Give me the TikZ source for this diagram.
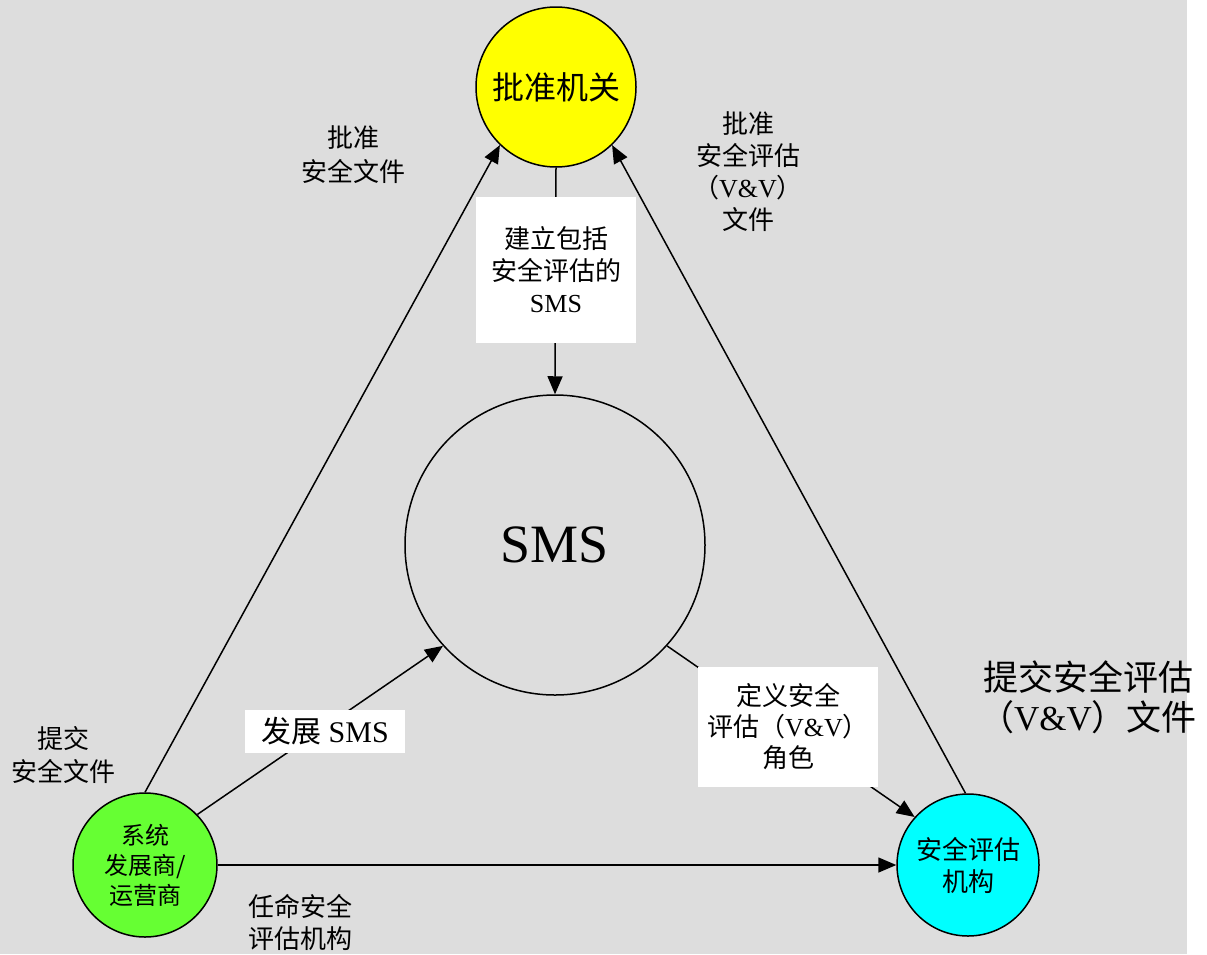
\documentclass[tikz,border=0pt]{standalone}
\usepackage{fontspec}
\setmainfont{Liberation Serif}
\newfontfamily\cjk{Noto Sans CJK SC}
\usetikzlibrary{arrows.meta}
\newcommand\zh[1]{{\cjk #1}}
\newcommand\vv{\zh{（}V\&V\zh{）}}
\tikzset{
  party/.style={circle, draw, line width=1.5pt, inner sep=0pt, align=center},
  flow/.style={line width=1.5pt, -{Triangle[length=18pt,width=15pt]}},
  note/.style={align=center, inner sep=0pt, font=\fontsize{26}{32}\selectfont},
  tag/.style={note, fill=white, inner sep=0pt}
}
\begin{document}
\begin{tikzpicture}[x=1pt, y=-1pt]
\definecolor{bg}{HTML}{DDDDDD}
\definecolor{yel}{HTML}{FFFF00}
\definecolor{grn}{HTML}{66FF33}
\definecolor{cyn}{HTML}{00FFFF}
\useasboundingbox[fill=white] (0,0) rectangle (1207,954);
\fill[bg] (0,0) rectangle (1187,954);
% parties
\node[party, fill=yel, minimum size=160pt, font=\fontsize{32}{36}\selectfont] (auth) at (556,87) {\zh{批准机关}};
\node[party, minimum size=300pt, font=\fontsize{54}{60}\selectfont] (sms) at (555,545) {SMS};
\node[party, fill=grn, minimum size=144pt, font=\fontsize{24}{30}\selectfont] (dev) at (145,865) {\zh{系统}\\\zh{发展商/}\\\zh{运营商}};
\node[party, fill=cyn, minimum size=142pt, font=\fontsize{26}{32}\selectfont] (assess) at (968,865) {\zh{安全评估}\\\zh{机构}};
% connectors
\draw[flow] (dev.90) -- (auth.226);
\draw[flow] (assess.92) -- (auth.314);
\draw[flow] (auth.south) -- (sms.north);
\draw[flow] (dev.44) -- (sms.222);
\draw[flow] (sms.318.7) -- (assess.138);
\draw[flow] (dev.east) -- (assess.west);
% labels on the connectors
\node[tag, minimum width=160pt, minimum height=146pt] (tagbuild) at (556,270) {\zh{建立包括}\\\zh{安全评估的}\\SMS};
\node[tag, minimum width=160pt, minimum height=43pt, font=\fontsize{30}{36}\selectfont] (tagdev) at (325,731) {\zh{发展} SMS};
\node[tag, minimum width=180pt, minimum height=120pt, font=\fontsize{26}{31}\selectfont] (tagrole) at (788,727) {\zh{定义安全}\\\zh{评估}\vv\\\zh{角色}};
% free labels
\node[note, font=\fontsize{26}{34}\selectfont] (lblapprove) at (353,155) {\zh{批准}\\\zh{安全文件}};
\node[note, font=\fontsize{26}{33}\selectfont] (lblsubmit) at (63,755) {\zh{提交}\\\zh{安全文件}};
\node[note, font=\fontsize{26}{32}\selectfont] (lblappoint) at (300,922) {\zh{任命安全}\\\zh{评估机构}};
\node[note] (lblapprovevv) at (748,172) {\zh{批准}\\\zh{安全评估}\\\vv\\\zh{文件}};
\node[note, font=\fontsize{35}{40}\selectfont] (lblsubmitvv) at (1088,697) {\zh{提交安全评估}\\\vv\zh{文件}};
\end{tikzpicture}
\end{document}
